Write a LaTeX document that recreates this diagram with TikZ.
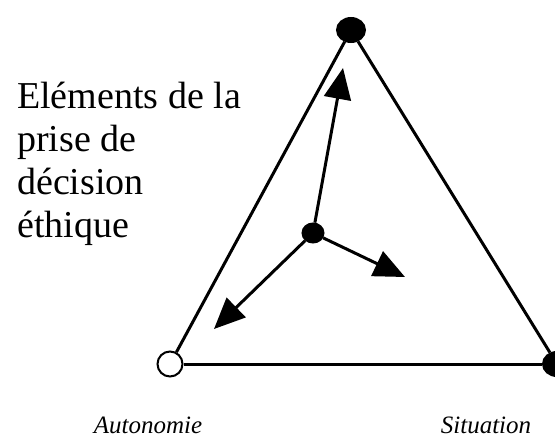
\documentclass[tikz,border=0pt]{standalone}
\usepackage{fontspec}
\setmainfont{Liberation Serif}
\usetikzlibrary{arrows.meta,shapes.geometric}

\begin{document}
\begin{tikzpicture}[x=1pt,y=-1pt,
  blob/.style={ellipse,draw,line width=2pt,inner sep=0pt,minimum width=28pt,minimum height=24pt},
  side/.style={line width=3pt},
  push/.style={line width=3pt,-{Triangle[length=31pt,width=27pt]}},
  pole/.style={anchor=base,inner sep=0pt,font=\itshape\fontsize{25}{28}\selectfont}]
\useasboundingbox (0,0) rectangle (555,437);
\node[blob,fill=black] (eth) at (351,30) {};
\node[blob,fill=white,minimum width=25pt,minimum height=25pt] (aut) at (170,364) {};
\node[blob,fill=black] (sit) at (557,364) {};
\node[blob,fill=black,minimum width=21pt,minimum height=19pt] (dec) at (313,233) {};
\coordinate (tEth) at (343,68);
\coordinate (tAut) at (214,329);
\coordinate (tSit) at (405,277);
\draw[side] (eth) -- (aut);
\draw[side] (aut) -- (sit);
\draw[side] (sit) -- (eth);
\draw[push] (dec) -- (tEth);
\draw[push] (dec) -- (tAut);
\draw[push] (dec) -- (tSit);
\node[anchor=base west,align=left,inner sep=0pt,font=\fontsize{38}{42.7}\selectfont] (titre) at (17,237)
  {Eléments de la\\prise de\\décision\\éthique};
\node[pole] (nAut) at (148,433) {Autonomie};
\node[pole] (nSit) at (486,433) {Situation};
\end{tikzpicture}
\end{document}
